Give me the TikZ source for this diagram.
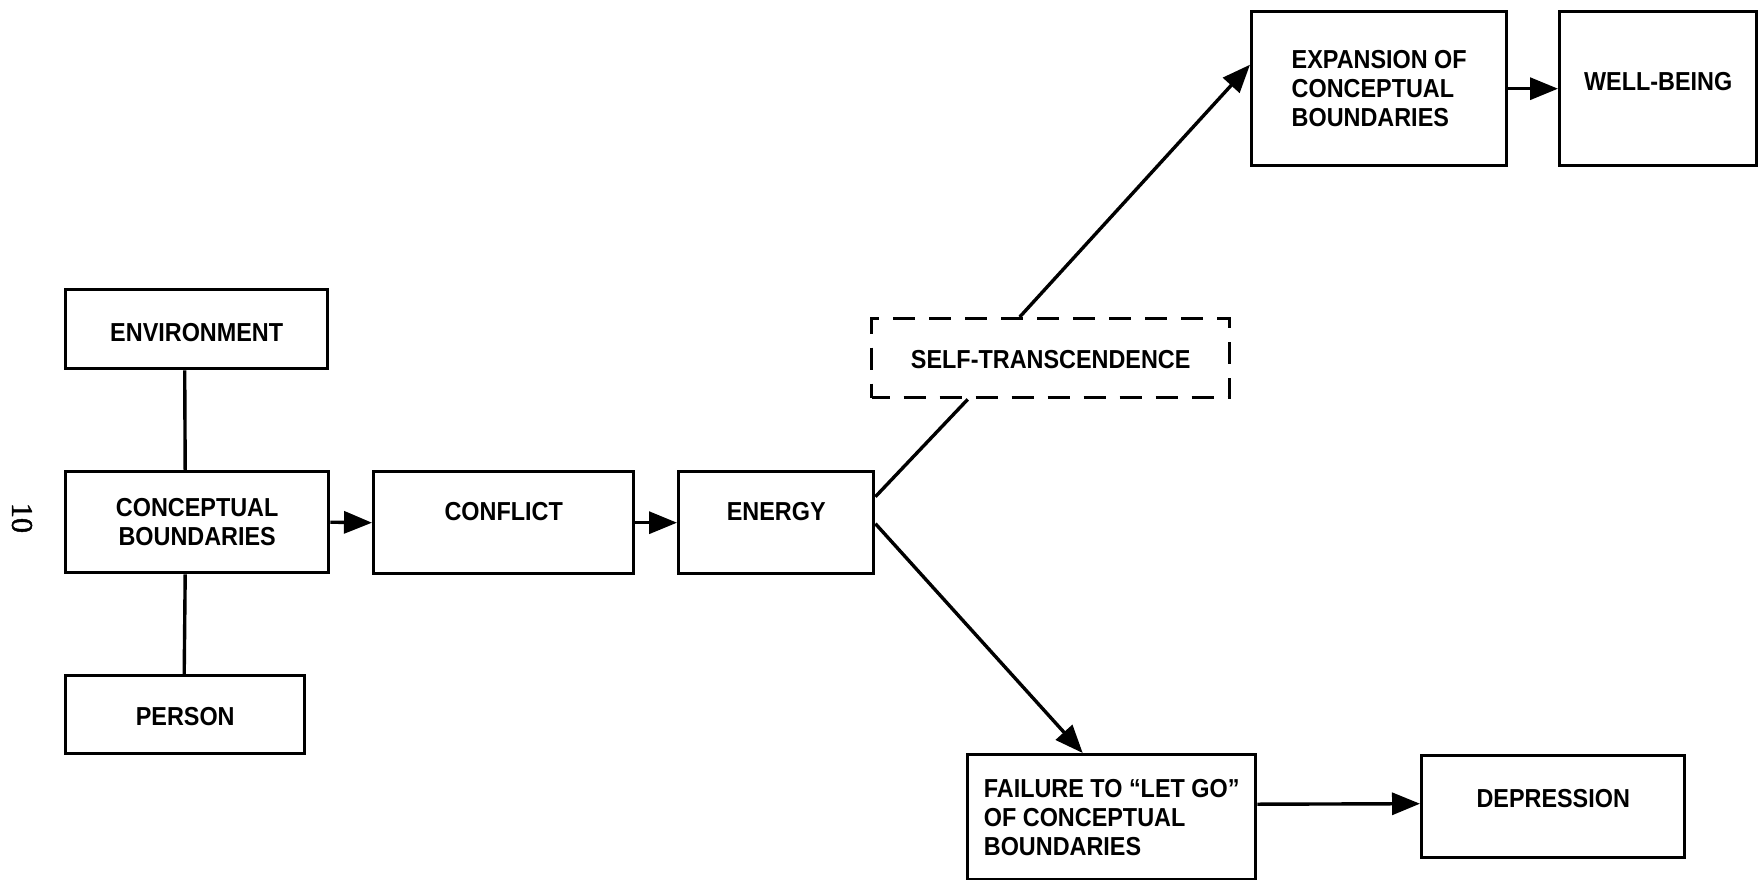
\documentclass[tikz,border=0pt]{standalone}
\usepackage{fontspec}
\setmainfont{Liberation Sans}[FakeStretch=0.9]
\newfontfamily\numfont{Liberation Serif}[FakeBold=1.5]
\usetikzlibrary{arrows.meta}
\begin{document}
\begin{tikzpicture}[x=1pt,y=-1pt,
  box/.style={draw, line width=3.4pt, rectangle, inner sep=0pt, anchor=north west,
    font=\bfseries\fontsize{26}{29}\selectfont, align=center},
  dbox/.style={box, dash pattern=on 22pt off 14pt, dash phase=4pt},
  conn/.style={line width=3.4pt},
  arr/.style={line width=3.4pt, -{Triangle[length=28pt,width=22pt]}}
]
\useasboundingbox (0,0) rectangle (1758,880);
\node[box, minimum width=262pt, minimum height=79pt, text height=52pt, text depth=27pt] (env) at (64,288) {ENVIRONMENT};
\node[box, minimum width=263pt, minimum height=101pt] (cb) at (64,470) {CONCEPTUAL\\BOUNDARIES};
\node[box, minimum width=239pt, minimum height=78pt, text height=50pt, text depth=28pt] (per) at (64,674) {PERSON};
\node[box, minimum width=260pt, minimum height=102pt, text height=49pt, text depth=53pt] (con) at (372,470) {CONFLICT};
\node[box, minimum width=195pt, minimum height=102pt, text height=49pt, text depth=53pt] (ene) at (677,470) {ENERGY};
\node[dbox, minimum width=358pt, minimum height=79pt, text height=50pt, text depth=29pt] (self) at (870,317) {SELF-TRANSCENDENCE};
\node[box, minimum width=255pt, minimum height=154pt, align=left] (exp) at (1250,10) {EXPANSION OF\\CONCEPTUAL\\BOUNDARIES};
\node[box, minimum width=197pt, minimum height=154pt, text height=79pt, text depth=75pt] (wb) at (1558,10) {WELL-BEING};
\node[box, minimum width=288pt, minimum height=125pt, align=left] (fail) at (966,753) {FAILURE TO ``LET GO''\\OF CONCEPTUAL\\BOUNDARIES};
\node[box, minimum width=263pt, minimum height=102pt, text height=52pt, text depth=50pt] (dep) at (1420,754) {DEPRESSION};
\node[rotate=-90, font=\numfont\fontsize{30}{30}\selectfont, anchor=center] (pg) at (22,518) {10};

\draw[conn] ([xshift=-12pt]env.south) -- ([xshift=-12pt]cb.north);
\draw[conn] ([xshift=-12pt]cb.south) -- ([xshift=-1pt]per.north);
\draw[arr] (cb.east) -- (con.west);
\draw[arr] (con.east) -- (ene.west);
\draw[conn] ([yshift=26pt]ene.east) -- ([xshift=-83pt]self.south);
\draw[arr] ([xshift=-31pt]self.north) -- ([yshift=24pt]exp.west);
\draw[arr] ([yshift=-1pt]ene.east) -- ([xshift=-29pt]fail.north);
\draw[arr] (exp.east) -- (wb.west);
\draw[arr] ([yshift=13pt]fail.east) -- ([yshift=3pt]dep.west);
\end{tikzpicture}
\end{document}
